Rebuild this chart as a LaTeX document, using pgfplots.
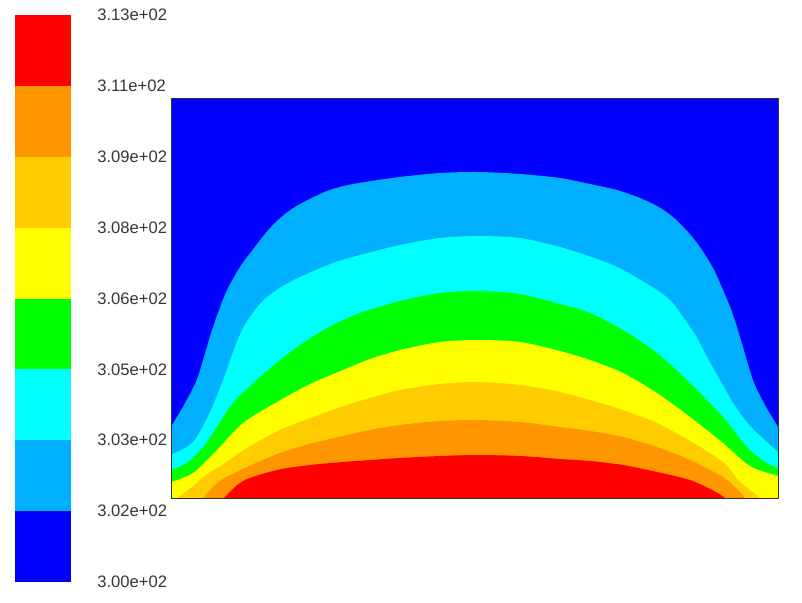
\documentclass[border=0pt]{standalone}
\usepackage{pgfplots}
\pgfplotsset{compat=1.18}
\usepackage{fontspec}
\setmainfont{Liberation Sans}
\definecolor{cRed}{RGB}{255,0,0}
\definecolor{cOrange}{RGB}{255,150,0}
\definecolor{cGold}{RGB}{255,204,0}
\definecolor{cYellow}{RGB}{255,255,0}
\definecolor{cGreen}{RGB}{0,255,0}
\definecolor{cCyan}{RGB}{0,255,255}
\definecolor{cLBlue}{RGB}{0,176,255}
\definecolor{cBlue}{RGB}{0,0,255}
\definecolor{cText}{RGB}{55,55,55}
\begin{document}
\begin{tikzpicture}
\begin{axis}[scale only axis, width=401pt, height=301pt, at={(0pt,0pt)}, anchor=south west,
  xmin=0, xmax=802, ymin=0, ymax=602, y dir=reverse, hide axis, clip=false]
\path (axis cs:0,0) rectangle (axis cs:802,602);
% colour bar
\addplot[fill=cBlue, draw=none] coordinates {(15,511.1) (71,511.1) (71,582) (15,582)} -- cycle;
\addplot[fill=cLBlue, draw=none] coordinates {(15,440.25) (71,440.25) (71,511.1) (15,511.1)} -- cycle;
\addplot[fill=cCyan, draw=none] coordinates {(15,369.4) (71,369.4) (71,440.25) (15,440.25)} -- cycle;
\addplot[fill=cGreen, draw=none] coordinates {(15,298.5) (71,298.5) (71,369.4) (15,369.4)} -- cycle;
\addplot[fill=cYellow, draw=none] coordinates {(15,227.6) (71,227.6) (71,298.5) (15,298.5)} -- cycle;
\addplot[fill=cGold, draw=none] coordinates {(15,156.75) (71,156.75) (71,227.6) (15,227.6)} -- cycle;
\addplot[fill=cOrange, draw=none] coordinates {(15,85.9) (71,85.9) (71,156.75) (15,156.75)} -- cycle;
\addplot[fill=cRed, draw=none] coordinates {(15,15) (71,15) (71,85.9) (15,85.9)} -- cycle;
\tikzset{lab/.style={anchor=west, inner sep=0pt, text=cText, font=\fontsize{8.3pt}{10pt}\selectfont}}
\node[lab] at (axis cs:97,15) {3.13e+02};
\node[lab] at (axis cs:97,85.9) {3.11e+02};
\node[lab] at (axis cs:97,156.75) {3.09e+02};
\node[lab] at (axis cs:97,227.6) {3.08e+02};
\node[lab] at (axis cs:97,298.5) {3.06e+02};
\node[lab] at (axis cs:97,369.4) {3.05e+02};
\node[lab] at (axis cs:97,440.25) {3.03e+02};
\node[lab] at (axis cs:97,511.1) {3.02e+02};
\node[lab] at (axis cs:97,582) {3.00e+02};
\end{axis}
% contour field
\begin{axis}[name=cont, scale only axis, at={(85.5pt,52pt)}, anchor=south west,
  width=303.5pt, height=200pt, xmin=171, xmax=778, ymin=98, ymax=498, y dir=reverse, hide axis]
\addplot[fill=cBlue, draw=none] coordinates {(160,90) (790,90) (790,510) (160,510)} -- cycle;
\addplot[fill=cLBlue, draw=none, smooth, tension=0.5] coordinates {(160,510) (160,447) (171,427) (184,405) (196.7,380) (206,350) (212,330) (219,310) (227,290) (240,267) (254,248) (270,228) (285,214) (300,204) (327,191) (353,184) (400,177) (440,173) (478,172) (520,174) (560,178) (590,184) (617,190) (640,198) (657,206) (673,217) (688,232) (700,247) (713,268) (723,290) (732,312) (740,337) (753,380) (765,405) (778,427) (790,447) (790,510)} -- cycle;
\addplot[fill=cCyan, draw=none, smooth, tension=0.5] coordinates {(160,510) (160,462) (171,455) (193,442) (210,412) (223,380) (233,352) (243,328) (255,310) (267,297) (283,286) (300,277) (333,263) (360,255) (400,245) (440,238) (478,236) (520,238) (560,247) (600,260) (623,270) (657,290) (672,302) (683,317) (696,336) (707,357) (720,380) (733,403) (745,420) (757,433) (778,452) (790,462) (790,510)} -- cycle;
\addplot[fill=cGreen, draw=none, smooth, tension=0.5] coordinates {(160,510) (160,474) (171,470) (187,463) (203,447) (215,430) (233,403) (260,377) (293,350) (327,328) (360,313) (400,301) (440,293) (478,291) (520,294) (560,304) (590,313) (623,330) (657,353) (690,383) (723,417) (747,447) (765,462) (778,468) (790,472) (790,510)} -- cycle;
\addplot[fill=cYellow, draw=none, smooth, tension=0.5] coordinates {(160,510) (160,485) (171,482) (193,473) (217,450) (243,423) (277,402) (310,384) (343,370) (370,359) (400,350) (440,342) (478,340) (520,342) (560,351) (590,360) (623,373) (657,393) (690,417) (723,443) (750,466) (778,476) (790,479) (790,510)} -- cycle;
\addplot[fill=cGold, draw=none, smooth, tension=0.5] coordinates {(170,510) (178,498) (192,487) (206,475) (222,465) (247,448) (280,430) (313,417) (347,405) (370,398) (400,390) (440,384) (478,382) (520,385) (560,392) (590,400) (623,410) (657,423) (690,441) (723,462) (740,482) (760,498) (768,510)} -- cycle;
\addplot[fill=cOrange, draw=none, smooth, tension=0.5] coordinates {(195,510) (203,498) (220,481) (247,467) (280,453) (313,443) (347,435) (370,430) (400,425) (440,421) (478,420) (520,422) (560,427) (590,431) (623,437) (657,447) (690,460) (723,477) (738,490) (745,498) (752,510)} -- cycle;
\addplot[fill=cRed, draw=none, smooth, tension=0.5] coordinates {(212,510) (224,498) (243,481) (277,470) (310,465) (343,462) (370,460) (400,458) (440,456) (478,455) (520,456) (560,459) (590,461) (623,465) (657,472) (690,480) (712,490) (725,498) (735,510)} -- cycle;
\end{axis}
\draw[black!80, line width=0.5pt] (cont.south west) rectangle (cont.north east);
\end{tikzpicture}
\end{document}
